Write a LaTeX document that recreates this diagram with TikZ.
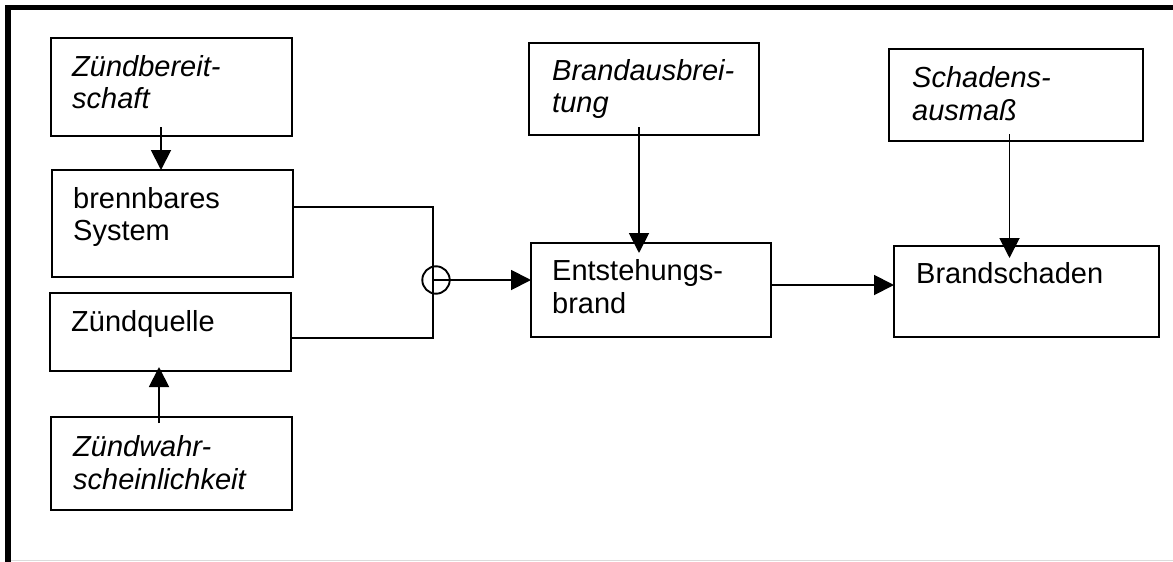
\documentclass[tikz,border=0pt]{standalone}
\usepackage{fontspec}
\setmainfont{Liberation Sans}
\usetikzlibrary{arrows.meta}

\tikzset{
  box/.style={draw, line width=2pt, inner sep=0pt, outer sep=0pt, anchor=north west},
  txt/.style={anchor=base west, inner sep=0pt, font=\fontsize{29}{33}\selectfont},
  itxt/.style={txt, font=\fontsize{29}{33}\selectfont\itshape},
  wire/.style={line width=1.9pt},
  arr/.style={wire, -{Triangle[length=20pt,width=20pt]}},
  frame/.style={line width=5.5pt, line join=miter},
  junction/.style={draw, circle, line width=1.9pt, minimum size=27.4pt, inner sep=0pt}
}

\begin{document}
\begin{tikzpicture}[x=1pt, y=-1pt]
  \useasboundingbox (0,0) rectangle (1173,562);

  % page frame
  \draw[frame] (8,562) -- (8,7.5) -- (1173,7.5);
  \draw[line width=1.5pt, black!14] (10.75,560.5) -- (1173,560.5);

  % boxes
  \node[box, minimum width=241pt, minimum height=98pt] (zb)   at (51,38)  {};
  \node[box, minimum width=241pt, minimum height=107pt] (bs)  at (52,170) {};
  \node[box, minimum width=241pt, minimum height=78pt] (zq)   at (50,293) {};
  \node[box, minimum width=241pt, minimum height=93pt] (zw)   at (51,417) {};
  \node[box, minimum width=230pt, minimum height=92pt] (ba)   at (529,43) {};
  \node[box, minimum width=240pt, minimum height=94pt] (es)   at (531,243) {};
  \node[box, minimum width=254pt, minimum height=92pt] (sa)   at (889,49) {};
  \node[box, minimum width=265pt, minimum height=91pt] (bsch) at (894,246) {};

  % box texts
  \node[itxt] (zb1) at (72,76)  {Zündbereit-};
  \node[itxt] (zb2) at (72,108) {schaft};
  \node[txt]  (bs1) at (73,208) {brennbares};
  \node[txt]  (bs2) at (73,240) {System};
  \node[txt]  (zq1) at (71,331) {Zündquelle};
  \node[itxt] (zw1) at (73,456) {Zündwahr-};
  \node[itxt] (zw2) at (73,489) {scheinlichkeit};
  \node[itxt] (ba1) at (552,80)  {Brandausbrei-};
  \node[itxt] (ba2) at (552,112) {tung};
  \node[txt]  (es1) at (552,280) {Entstehungs-};
  \node[txt]  (es2) at (552,313) {brand};
  \node[itxt] (sa1) at (912,87)  {Schadens-};
  \node[itxt] (sa2) at (912,120) {ausmaß};
  \node[txt]  (bc1) at (916,283) {Brandschaden};

  % junction
  \node[junction] (or) at (436,280) {};

  % connectors
  \draw[arr] ([xshift=-10.5pt,yshift=9pt]zb.south) -- ([xshift=-11.5pt]bs.north);
  \draw[arr] ([xshift=-12.5pt,yshift=-6pt]zw.north) -- ([xshift=-11.5pt,yshift=4pt]zq.south);
  \draw[wire] ([yshift=16.5pt]bs.east) -| ([xshift=-3pt]or.center) |- ([yshift=-6pt]zq.east);
  \draw[arr] ([xshift=-3pt]or.center) -- ([yshift=10pt]es.west);
  \draw[arr] ([xshift=-5pt,yshift=8pt]ba.south) -- ([xshift=-12pt,yshift=-10pt]es.north);
  \draw[arr] ([xshift=1pt,yshift=5pt]es.east) -- ([yshift=6.5pt]bsch.west);
  \draw[arr] ([xshift=-6.5pt,yshift=7pt]sa.south) -- ([xshift=-17pt,yshift=-12pt]bsch.north);
\end{tikzpicture}
\end{document}
